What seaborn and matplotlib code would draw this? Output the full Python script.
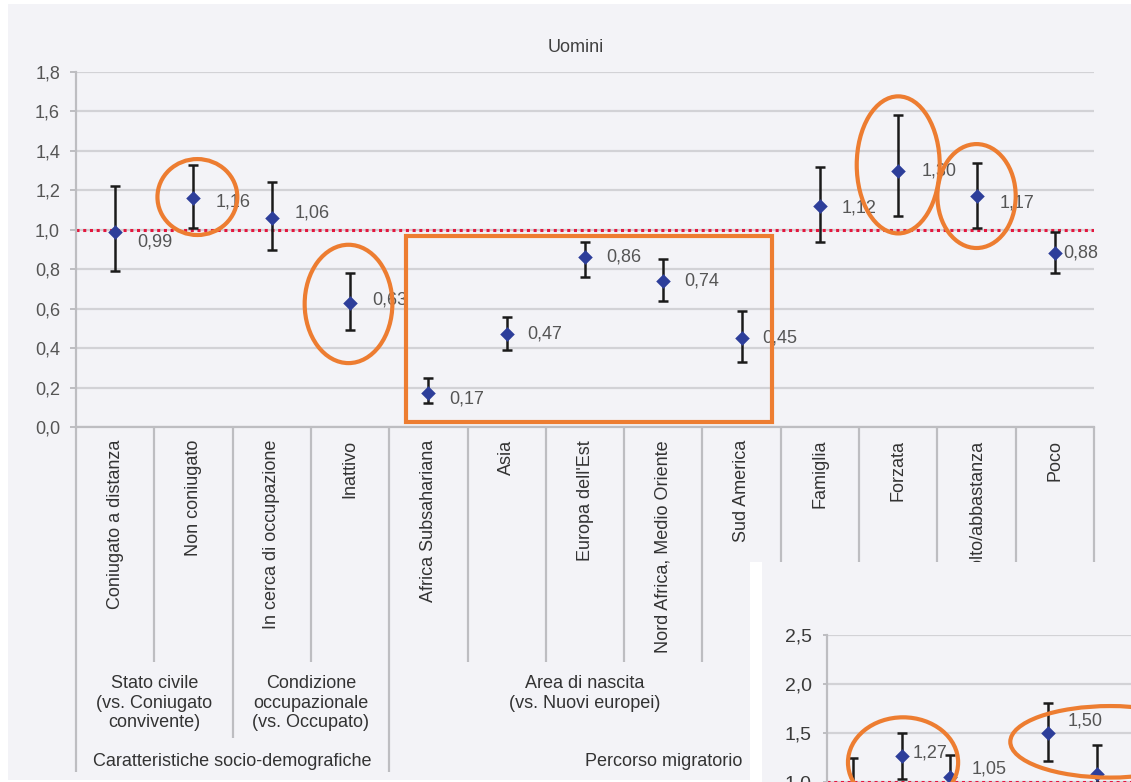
import numpy as np
import pandas as pd
import matplotlib
matplotlib.use("Agg")
import matplotlib.pyplot as plt
import matplotlib.transforms as mtransforms
from matplotlib.patches import Ellipse, Rectangle
from matplotlib.ticker import FixedLocator, FuncFormatter
import seaborn as sns

# ---- data -------------------------------------------------------------
categories = ["Coniugato a distanza", "Non coniugato", "In cerca di occupazione",
              "Inattivo", "Africa Subsahariana", "Asia", "Europa dell'Est",
              "Nord Africa, Medio Oriente", "Sud America", "Famiglia", "Forzata",
              "Molto/abbastanza", "Poco"]
odds_ratio = [0.99, 1.16, 1.06, 0.63, 0.17, 0.47, 0.86, 0.74, 0.45, 1.12, 1.30, 1.17, 0.88]
ci_low = [0.79, 1.01, 0.90, 0.49, 0.12, 0.39, 0.76, 0.64, 0.33, 0.94, 1.07, 1.01, 0.78]
ci_high = [1.22, 1.33, 1.24, 0.78, 0.25, 0.56, 0.94, 0.85, 0.59, 1.32, 1.58, 1.34, 0.99]

subgroup_labels = ["Stato civile\n(vs. Coniugato\nconvivente)",
                   "Condizione\noccupazionale\n(vs. Occupato)",
                   "Area di nascita\n(vs. Nuovi europei)"]
subgroup_spans = [(0, 1), (2, 3), (4, 8)]
group_labels = ["Caratteristiche socio-demografiche", "Percorso migratorio"]

# second panel (partially shown)
inset_or = [0.93, 1.27, 1.05, 0.80, 1.50, 1.08]
inset_low = [0.70, 1.03, 0.85, 0.62, 1.21, 0.85]
inset_high = [1.24, 1.50, 1.28, 0.95, 1.81, 1.38]
inset_labelled = [1, 2, 4]

# ---- style -------------------------------------------------------------
sns.set_style("white")
plt.rcParams["font.family"] = ["Liberation Sans", "DejaVu Sans"]

W, H = 1131, 782
PANEL = "#f3f3f7"
GRID = "#d2d2d6"
SEP = "#bdbdc1"
TXT = "#555555"
DIAMOND = "#2d3e9a"
ORANGE = "#ed7d31"
REF = "#e3173e"


def fx(px):
    return px / W


def fy(py):
    return 1 - py / H


def fmt_it(v, _=None):
    return f"{v:.1f}".replace(".", ",")


def fmt_val(v):
    return f"{v:.2f}".replace(".", ",")


fig = plt.figure(figsize=(W / 100, H / 100), dpi=100, facecolor="white")
fig.add_artist(Rectangle((fx(8), fy(780)), fx(1131 - 8), (780 - 4) / H,
                         transform=fig.transFigure, facecolor=PANEL,
                         edgecolor="none", zorder=-10))

# ---- main panel ----------------------------------------------------------
ax = fig.add_axes([fx(76), fy(427), (1094 - 76) / W, (427 - 72) / H])
ax.set_facecolor("none")
pos = np.arange(len(categories))
df = pd.DataFrame({"pos": pos, "or": odds_ratio, "lo": ci_low, "hi": ci_high})

ax.set_xlim(-0.5, len(categories) - 0.5)
ax.set_ylim(0, 1.8)
ax.yaxis.set_major_locator(FixedLocator(np.round(np.arange(0, 1.81, 0.2), 1)))
ax.yaxis.set_major_formatter(FuncFormatter(fmt_it))
ax.set_xticks([])
ax.grid(axis="y", color=GRID, lw=1.6)
ax.set_axisbelow(True)
for s in ["top", "right"]:
    ax.spines[s].set_visible(False)
for s in ["left", "bottom"]:
    ax.spines[s].set_color(SEP)
    ax.spines[s].set_linewidth(1.6)
ax.tick_params(axis="y", length=4.5, width=1.4, color=SEP, pad=7,
               labelsize=13, labelcolor=TXT, left=True)

ax.axhline(1.0, color=REF, lw=2.2, ls=(0, (1, 1.2)), zorder=2)
ax.errorbar(df["pos"], df["or"], yerr=[df["or"] - df["lo"], df["hi"] - df["or"]],
            fmt="none", ecolor="#1a1a1a", elinewidth=1.8, capsize=3.5,
            capthick=1.8, zorder=3)
sns.scatterplot(data=df, x="pos", y="or", marker="D", s=55, color=DIAMOND,
                edgecolor=DIAMOND, linewidth=0, zorder=4, ax=ax, legend=False)
ax.set_xlabel("")
ax.set_ylabel("")

label_dx = [22, 22, 23, 22, 21, 21, 21, 21, 21, 22, 23, 23, 8]
label_dy = [-10, -4, 5, 3, -6, 0, 0, 0, 0, -2, 0, -7, 0]
for x, v, dx, dy in zip(pos, odds_ratio, label_dx, label_dy):
    ax.annotate(fmt_val(v), (x, v), xytext=(dx, dy), textcoords="offset pixels",
                ha="left", va="center", fontsize=13, color=TXT, zorder=5)

# multi-level category axis
blend = mtransforms.blended_transform_factory(ax.transData, fig.transFigure)
for x, name in zip(pos, categories):
    ax.text(x, fy(440), name, rotation=90, ha="center", va="top",
            fontsize=13, color="#333333", transform=blend, clip_on=False)

boundary_ends = {-0.5: 772, 0.5: 662, 1.5: 738, 2.5: 662, 3.5: 772, 4.5: 662,
                 5.5: 662, 6.5: 662, 7.5: 662, 8.5: 738, 9.5: 662, 10.5: 738,
                 11.5: 662, 12.5: 772}
for bx, end in boundary_ends.items():
    ax.plot([bx, bx], [fy(427), fy(end)], color=SEP, lw=1.6,
            transform=blend, clip_on=False, solid_capstyle="butt")

for text, (a, b) in zip(subgroup_labels, subgroup_spans):
    ax.text((a + b) / 2, fy(675), text, ha="center", va="top",
            multialignment="center", linespacing=1.2, fontsize=13,
            color="#333333", transform=blend, clip_on=False)
ax.text(1.5, fy(762), group_labels[0], ha="center", va="center",
        fontsize=13, color="#333333", transform=blend, clip_on=False)
ax.text(7.0, fy(762), group_labels[1], ha="center", va="center",
        fontsize=13, color="#333333", transform=blend, clip_on=False)

fig.text(fx(576), fy(47), "Uomini", ha="center", va="center",
         fontsize=13, color="#404040")

# highlight marks
for (cx, cy, w, h) in [(1.05, 1.166, 1.02, 0.385), (2.98, 0.624, 1.12, 0.60),
                       (10.0, 1.329, 1.06, 0.695), (11.0, 1.171, 1.0, 0.527)]:
    ax.add_patch(Ellipse((cx, cy), w, h, fill=False, edgecolor=ORANGE,
                         lw=3, zorder=6, clip_on=False))
ax.add_patch(Rectangle((3.72, 0.025), 8.39 - 3.72, 0.969 - 0.025, fill=False,
                       edgecolor=ORANGE, lw=3, zorder=6, clip_on=False))

# ---- second panel, overlapping the lower right corner -------------------
fig.add_artist(Rectangle((fx(750), 0), fx(1131 - 750), (782 - 562) / H,
                         transform=fig.transFigure, facecolor="white",
                         edgecolor="none", zorder=2))
fig.add_artist(Rectangle((fx(762), 0), fx(1131 - 762), (782 - 562) / H,
                         transform=fig.transFigure, facecolor=PANEL,
                         edgecolor="none", zorder=2))

ax2 = fig.add_axes([fx(827), fy(880), 390 / W, 245 / H], zorder=3)
ax2.set_facecolor("none")
ipos = np.arange(len(inset_or))
idf = pd.DataFrame({"pos": ipos, "or": inset_or, "lo": inset_low, "hi": inset_high})
ax2.set_xlim(-0.53, 7.47)
ax2.set_ylim(0, 2.5)
ax2.yaxis.set_major_locator(FixedLocator(np.arange(0, 2.51, 0.5)))
ax2.yaxis.set_major_formatter(FuncFormatter(fmt_it))
ax2.set_xticks([])
ax2.grid(axis="y", color=GRID, lw=1.6)
ax2.set_axisbelow(True)
for s in ["top", "right", "bottom"]:
    ax2.spines[s].set_visible(False)
ax2.spines["left"].set_color(SEP)
ax2.spines["left"].set_linewidth(1.6)
ax2.tick_params(axis="y", length=3, width=1.4, color=SEP, pad=8,
                labelsize=14, labelcolor="#3a3a3a", left=True)
ax2.axhline(1.0, color=REF, lw=2.2, ls=(0, (1, 1.2)), zorder=2)
ax2.errorbar(idf["pos"], idf["or"], yerr=[idf["or"] - idf["lo"], idf["hi"] - idf["or"]],
             fmt="none", ecolor="#1a1a1a", elinewidth=1.8, capsize=3.5,
             capthick=1.8, zorder=3)
sns.scatterplot(data=idf, x="pos", y="or", marker="D", s=55, color=DIAMOND,
                edgecolor=DIAMOND, linewidth=0, zorder=4, ax=ax2, legend=False)
ax2.set_xlabel("")
ax2.set_ylabel("")
inset_dx = {1: 11, 2: 21, 4: 20}
inset_dy = {1: 3, 2: 8, 4: 12}
for i in inset_labelled:
    ax2.annotate(fmt_val(inset_or[i]), (i, inset_or[i]),
                 xytext=(inset_dx[i], inset_dy[i]), textcoords="offset pixels",
                 ha="left", va="center", fontsize=13, color=TXT, zorder=5)
for (cx, cy, w, h) in [(1.03, 1.2, 2.26, 0.92), (5.28, 1.41, 4.1, 0.73)]:
    ax2.add_patch(Ellipse((cx, cy), w, h, fill=False, edgecolor=ORANGE,
                          lw=3, zorder=6, clip_on=False))

fig.savefig("out.png", dpi=100)
